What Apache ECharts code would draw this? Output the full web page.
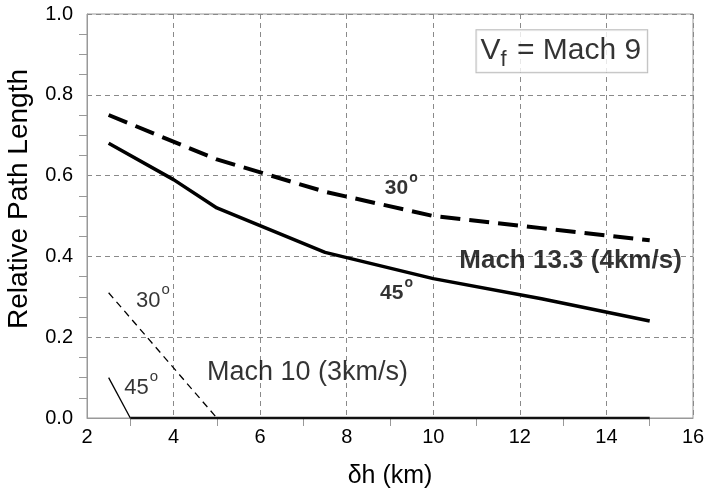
<!DOCTYPE html>
<html>
<head>
<meta charset="utf-8">
<script src="https://cdn.jsdelivr.net/npm/echarts@6/dist/echarts.min.js"></script>
<style>html,body{margin:0;padding:0;background:#fff;}#c{width:704px;height:491px;}</style>
</head>
<body>
<div id="c"></div>
<script>
// ---- data ----
var xTicks = [2, 4, 6, 8, 10, 12, 14, 16];
var yTicks = [0.0, 0.2, 0.4, 0.6, 0.8, 1.0];
var mach13_30_x = [2.5, 5, 7.5, 10, 12.5, 15];
var mach13_30_y = [0.75, 0.64, 0.56, 0.50, 0.47, 0.44];
var mach13_45_x = [2.5, 4, 5, 7.5, 10, 12.5, 15];
var mach13_45_y = [0.68, 0.59, 0.52, 0.41, 0.345, 0.295, 0.24];
var mach10_30_x = [2.5, 5];
var mach10_30_y = [0.31, 0.0];
var mach10_45_x = [2.5, 3];
var mach10_45_y = [0.10, 0.0];
var mach10_floor_x = [3, 15];
var mach10_floor_y = [0.0, 0.0];
var xTitle = 'δh (km)';
var yTitle = 'Relative Path Length';

function pairs(xs, ys) { return xs.map(function (x, i) { return [x, ys[i]]; }); }

var FONT = '"Liberation Sans", Arial, Helvetica, sans-serif';
var INK = '#000';
var chart = echarts.init(document.getElementById('c'), null, {renderer: 'canvas'});

function degLabel(x, y, num, bold, size) {
  return {
    type: 'scatter', symbolSize: 0, silent: true, clip: false,
    data: [[x, y]],
    label: {
      show: true, position: 'right', distance: 0,
      formatter: '{n|' + num + '}{s|o}',
      rich: {
        n: {fontFamily: FONT, fontSize: size, fontWeight: bold ? 'bold' : 'normal', color: INK},
        s: {fontFamily: FONT, fontSize: Math.round(size * 0.68), fontWeight: bold ? 'bold' : 'normal', color: INK, padding: [0, 0, Math.round(size * 0.95), 1]}
      }
    }
  };
}
function textLabel(x, y, txt, bold, size) {
  return {
    type: 'scatter', symbolSize: 0, silent: true, clip: false,
    data: [[x, y]],
    label: {
      show: true, position: 'right', distance: 0, formatter: txt,
      fontFamily: FONT, fontSize: size, fontWeight: bold ? 'bold' : 'normal', color: INK
    }
  };
}

var option = {
  animation: false,
  backgroundColor: '#fff',
  grid: {left: 87, top: 14, right: 11, bottom: 73, show: true, borderColor: '#999', borderWidth: 1,
    containLabel: false, outerBoundsMode: 'none'},
  xAxis: {
    type: 'value', min: xTicks[0], max: xTicks[xTicks.length - 1], interval: 2,
    name: xTitle, nameLocation: 'middle', nameGap: 46,
    nameTextStyle: {fontFamily: FONT, fontSize: 25, color: INK},
    axisLine: {lineStyle: {color: '#999', width: 1}},
    axisTick: {show: false},
    minorTick: {show: true, splitNumber: 2, length: 8, lineStyle: {color: '#999'}},
    axisLabel: {fontFamily: FONT, fontSize: 20, color: INK, margin: 9},
    splitLine: {show: true, lineStyle: {color: '#8a8a8a', type: [5, 4], width: 1}}
  },
  yAxis: {
    type: 'value', min: yTicks[0], max: yTicks[yTicks.length - 1], interval: 0.2,
    axisLine: {lineStyle: {color: '#999', width: 1}},
    axisTick: {show: false},
    minorTick: {show: true, splitNumber: 4, length: 8, lineStyle: {color: '#999'}},
    axisLabel: {fontFamily: FONT, fontSize: 20, color: INK, margin: 14, formatter: function (v) { return v.toFixed(1); }},
    splitLine: {show: true, lineStyle: {color: '#8a8a8a', type: [5, 4], width: 1}}
  },
  graphic: [{
    type: 'text', x: 19, y: 199, rotation: Math.PI / 2,
    style: {text: yTitle, font: '28px ' + FONT, fill: INK, textAlign: 'center', textVerticalAlign: 'middle'}
  }],
  series: [
    {type: 'line', name: 'Mach 13.3 30°', data: pairs(mach13_30_x, mach13_30_y), symbol: 'none', clip: false,
      lineStyle: {color: '#000', width: 4, type: [20, 9]}},
    {type: 'line', name: 'Mach 13.3 45°', data: pairs(mach13_45_x, mach13_45_y), symbol: 'none', clip: false,
      lineStyle: {color: '#000', width: 3.5}},
    {type: 'line', name: 'Mach 10 30°', data: pairs(mach10_30_x, mach10_30_y), symbol: 'none', clip: false,
      lineStyle: {color: '#000', width: 1.3, type: [7, 5]}},
    {type: 'line', name: 'Mach 10 45°', data: pairs(mach10_45_x, mach10_45_y), symbol: 'none', clip: false,
      lineStyle: {color: '#000', width: 1.3}},
    {type: 'line', name: 'Mach 10 floor', data: pairs(mach10_floor_x, mach10_floor_y), symbol: 'none', clip: false,
      lineStyle: {color: '#111', width: 2.5}},
    degLabel(8.88, 0.57, '30', true, 21),
    degLabel(8.77, 0.31, '45', true, 21),
    textLabel(10.6, 0.39, 'Mach 13.3 (4km/s)', true, 26),
    degLabel(3.13, 0.29, '30', false, 22),
    degLabel(2.86, 0.075, '45', false, 22),
    textLabel(4.77, 0.113, 'Mach 10 (3km/s)', false, 27),
    {
      type: 'scatter', symbolSize: 0, silent: true, clip: false,
      data: [[12.97, 0.908]],
      label: {
        show: true, position: 'inside',
        formatter: '{v|V}{f|f}{v| = Mach 9}',
        backgroundColor: '#fff', borderColor: '#aaa', borderWidth: 1, padding: [1, 6, 1, 4],
        rich: {
          v: {fontFamily: FONT, fontSize: 30, color: INK},
          f: {fontFamily: FONT, fontSize: 22, color: INK, padding: [18, 2, 0, 0]}
        }
      }
    }
  ]
};
chart.setOption(option);
</script>
</body>
</html>
